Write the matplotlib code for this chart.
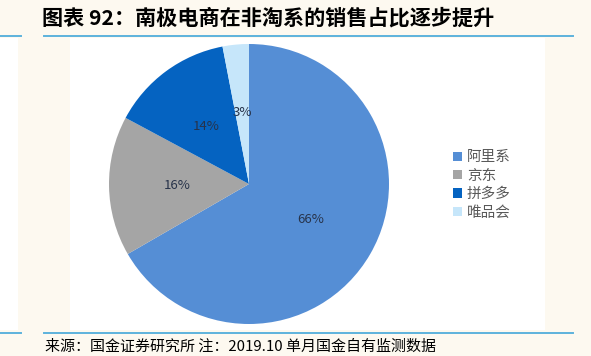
import matplotlib
matplotlib.use("Agg")
import matplotlib.pyplot as plt
from matplotlib.patches import Rectangle
from matplotlib.lines import Line2D

plt.rcParams['font.family'] = ['Noto Sans CJK SC', 'DejaVu Sans']

# --- data ---
platforms = ["阿里系", "京东", "拼多多", "唯品会"]
shares = [66, 16, 14, 3]
colors = ["#558ED5", "#A5A5A5", "#0563C1", "#C6E6FA"]

title = "图表 92：南极电商在非淘系的销售占比逐步提升"
note = "来源：国金证券研究所 注：2019.10 单月国金自有监测数据"

W, H = 591, 356
fig = plt.figure(figsize=(W / 100, H / 100), dpi=100, facecolor="#FDF9F0")

# white panels behind the chart
fig.patches.append(Rectangle((70 / W, 1 - 330 / H), 475 / W, 292 / H,
                             transform=fig.transFigure, facecolor="white",
                             edgecolor="none", zorder=-2))
fig.patches.append(Rectangle((0, 1 - 330 / H), 18 / W, 292 / H,
                             transform=fig.transFigure, facecolor="white",
                             edgecolor="none", zorder=-2))

# blue rules above and below
line_c = "#5DB3DC"
for yy in (36, 333):
    for x0, x1 in ((0, 21), (44, 573)):
        fig.lines.append(Line2D([x0 / W, x1 / W], [1 - yy / H, 1 - yy / H],
                                transform=fig.transFigure, color=line_c, lw=1.4))

# pie
cx, cy, r = 249, 184, 140
ax = fig.add_axes([(cx - r) / W, (H - cy - r) / H, 2 * r / W, 2 * r / H])
ax.set_zorder(2)
ax.patch.set_alpha(0)
wedges, _, autotexts = ax.pie(shares, colors=colors, startangle=90,
                              counterclock=False, autopct="%d%%",
                              pctdistance=0.51,
                              textprops=dict(fontsize=9.5, color="#27334A"))
ax.set_xlim(-1, 1)
ax.set_ylim(-1, 1)
ax.set_aspect("equal")

ax.legend(wedges, platforms, loc="center left",
          bbox_to_anchor=(453 / W, 1 - 185 / H), bbox_transform=fig.transFigure,
          frameon=False, fontsize=10.5, labelcolor="#595959",
          handlelength=0.6, handleheight=0.6, handletextpad=0.35,
          labelspacing=0.3, borderpad=0, borderaxespad=0)

fig.text(42 / W, 1 - 18 / H, title, fontsize=15.2, fontweight="bold",
         style="italic", va="center", ha="left", color="black")
fig.text(45 / W, 1 - 347 / H, note, fontsize=10.8, va="center", ha="left",
         color="black")

fig.savefig("out.png", dpi=100, facecolor=fig.get_facecolor())
